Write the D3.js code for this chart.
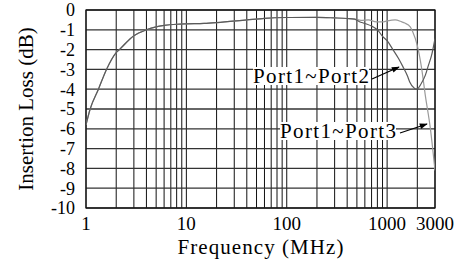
<!DOCTYPE html>
<html>
<head>
<meta charset="utf-8">
<script src="https://cdn.jsdelivr.net/npm/d3@7"></script>
<style>
  body { margin: 0; background: #fff; }
  svg text { font-family: "Liberation Serif", Times, serif; }
</style>
</head>
<body>
<div id="chart"></div>
<script>

var serif = "Liberation Serif";

// Port1~Port2 measured insertion loss
var freq12 = [1, 1.1, 1.33, 1.6, 2, 2.15, 3, 4, 5, 6, 8, 10, 15, 20, 40, 60, 100, 200, 300, 400, 475,
              530, 600, 718, 800, 907, 1000, 1142, 1300, 1436, 1600, 1675, 1880, 1980, 2196, 2400, 2556, 2800, 3000];
var loss12 = [-5.8, -5.0, -4.0, -3.0, -2.15, -2.0, -1.3, -1.0, -0.85, -0.78, -0.72, -0.7, -0.68, -0.64, -0.5, -0.42, -0.38, -0.37, -0.4, -0.43, -0.46,
              -0.59, -0.68, -0.84, -1.0, -1.35, -1.55, -2.0, -2.45, -2.86, -3.35, -3.62, -3.96, -4.0, -3.7, -3.3, -2.86, -2.2, -1.45];

// Port1~Port3 measured insertion loss
var freq13 = [1, 1.1, 1.33, 1.6, 2, 2.15, 3, 4, 5, 6, 8, 10, 15, 20, 40, 60, 100, 200, 300, 400, 475,
              550, 650, 780, 900, 1000, 1200, 1400, 1500, 1700, 1800, 2000, 2200, 2400, 2700, 3000];
var loss13 = [-5.8, -5.0, -4.0, -3.0, -2.15, -2.0, -1.3, -1.0, -0.85, -0.78, -0.72, -0.7, -0.68, -0.64, -0.5, -0.42, -0.38, -0.37, -0.4, -0.43, -0.46,
              -0.52, -0.5, -0.6, -0.6, -0.55, -0.5, -0.6, -0.66, -0.85, -1.1, -1.8, -2.9, -4.3, -6.0, -8.1];

var xTicks = [1, 10, 100, 1000, 3000];
var yTicks = [0, -1, -2, -3, -4, -5, -6, -7, -8, -9, -10];
var xGrid = [1, 2, 3, 4, 5, 6, 7, 8, 9, 10, 20, 30, 40, 50, 60, 70, 80, 90, 100,
             200, 300, 400, 500, 600, 700, 800, 900, 1000, 2000, 3000];

var labels = [
  {text: "Port1~Port2", x: 253, y: 83, ax: [372, 79], bx: [399, 67]},
  {text: "Port1~Port3", x: 280, y: 138, ax: [400, 133], bx: [427, 124]}
];

var margin = {top: 10, right: 38, bottom: 58, left: 86},
    width  = 473 - margin.left - margin.right,
    height = 266 - margin.top - margin.bottom;

var svg = d3.select("#chart").append("svg")
    .attr("width", 473)
    .attr("height", 266);

svg.append("defs").append("marker")
    .attr("id", "arr")
    .attr("viewBox", "0 0 10 10")
    .attr("refX", 9).attr("refY", 5)
    .attr("markerWidth", 12).attr("markerHeight", 8)
    .attr("markerUnits", "userSpaceOnUse")
    .attr("orient", "auto")
  .append("path")
    .attr("d", "M0,1.5 L10,5 L0,8.5 Z")
    .attr("fill", "#000");

svg.append("clipPath").attr("id", "clip")
  .append("rect").attr("width", width).attr("height", height);

var g = svg.append("g")
    .attr("transform", "translate(" + margin.left + "," + margin.top + ")");

var x = d3.scaleLog().domain([1, 3000]).range([0, width]);
var y = d3.scaleLinear().domain([-10, 0]).range([height, 0]);

// grid
g.selectAll(".vgrid")
    .data(xGrid)
  .enter().append("line")
    .attr("x1", function(d) { return x(d); })
    .attr("x2", function(d) { return x(d); })
    .attr("y1", 0).attr("y2", height)
    .attr("stroke", "#111").attr("stroke-width", 1);

g.selectAll(".hgrid")
    .data(yTicks)
  .enter().append("line")
    .attr("x1", 0).attr("x2", width)
    .attr("y1", function(d) { return y(d); })
    .attr("y2", function(d) { return y(d); })
    .attr("stroke", "#333").attr("stroke-width", 1.3);

g.append("rect")
    .attr("width", width).attr("height", height)
    .attr("fill", "none").attr("stroke", "#111").attr("stroke-width", 1.2);

// curves
var line = d3.line()
    .x(function(d) { return x(d[0]); })
    .y(function(d) { return y(d[1]); })
    .curve(d3.curveMonotoneX);

g.append("path")
    .datum(d3.zip(freq13, loss13))
    .attr("clip-path", "url(#clip)")
    .attr("d", line)
    .attr("fill", "none").attr("stroke", "#9a9a9a").attr("stroke-width", 1.2);

g.append("path")
    .datum(d3.zip(freq12, loss12))
    .attr("clip-path", "url(#clip)")
    .attr("d", line)
    .attr("fill", "none").attr("stroke", "#5a5a5a").attr("stroke-width", 1.2);

// axes labels
g.selectAll(".ytick")
    .data(yTicks)
  .enter().append("text")
    .attr("x", -11)
    .attr("y", function(d) { return y(d); })
    .attr("dy", "0.35em")
    .attr("text-anchor", "end")
    .attr("font-family", serif)
    .attr("font-size", 18)
    .text(function(d) { return d; });

g.selectAll(".xtick")
    .data(xTicks)
  .enter().append("text")
    .attr("x", function(d) { return x(d); })
    .attr("y", 220)
    .attr("text-anchor", "middle")
    .attr("font-family", serif)
    .attr("font-size", 19)
    .text(function(d) { return d; });

svg.append("text")
    .attr("x", margin.left + width / 2)
    .attr("y", 254)
    .attr("text-anchor", "middle")
    .attr("font-family", serif)
    .attr("font-size", 21)
    .attr("textLength", 166)
    .attr("lengthAdjust", "spacing")
    .text("Frequency (MHz)");

svg.append("text")
    .attr("transform", "translate(33," + (margin.top + height / 2) + ") rotate(-90)")
    .attr("text-anchor", "middle")
    .attr("font-family", serif)
    .attr("font-size", 21)
    .text("Insertion Loss (dB)");

// annotations
labels.forEach(function(l) {
  var t = svg.append("text")
      .attr("x", l.x).attr("y", l.y)
      .attr("font-family", serif)
      .attr("font-size", 21)
      .attr("textLength", 116)
      .attr("lengthAdjust", "spacing")
      .text(l.text);
  var bb = t.node().getBBox();
  svg.insert("rect", function() { return t.node(); })
      .attr("x", bb.x).attr("y", bb.y + 3)
      .attr("width", bb.width).attr("height", bb.height - 6)
      .attr("fill", "#fff");
  svg.append("line")
      .attr("x1", l.ax[0]).attr("y1", l.ax[1])
      .attr("x2", l.bx[0]).attr("y2", l.bx[1])
      .attr("stroke", "#000").attr("stroke-width", 1.2)
      .attr("marker-end", "url(#arr)");
});
</script>
</body>
</html>
